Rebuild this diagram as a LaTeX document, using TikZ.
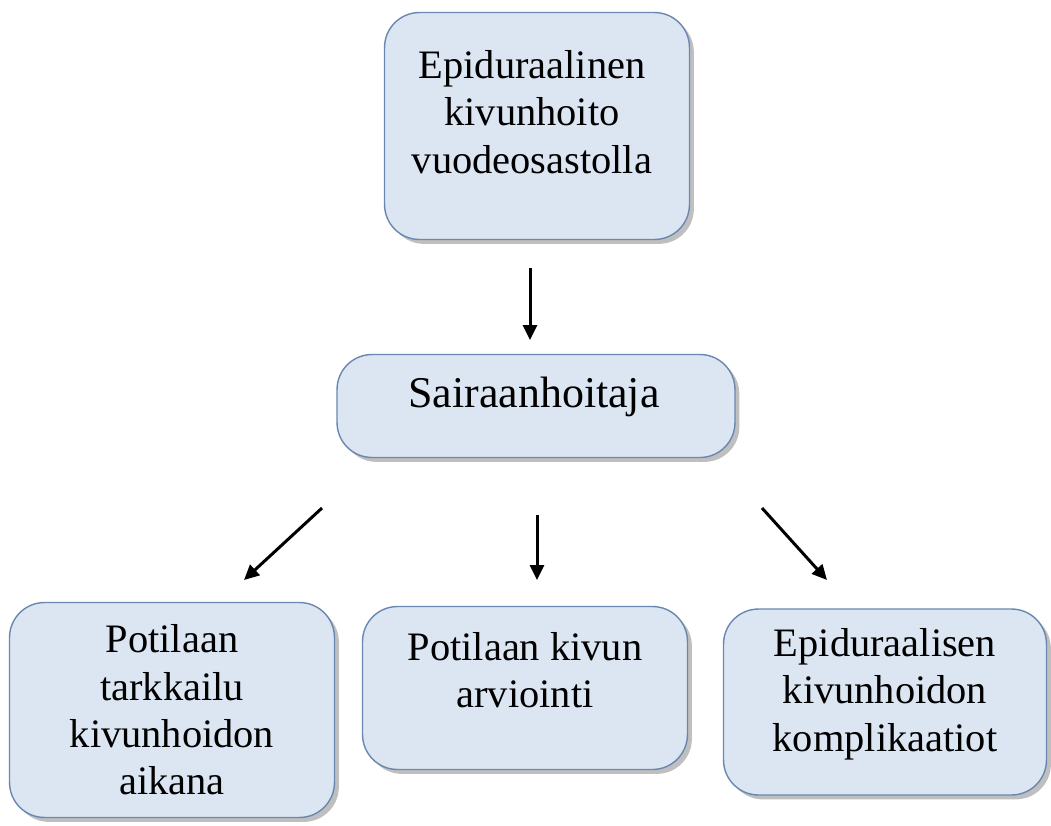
\documentclass[tikz,border=0pt]{standalone}
\usepackage{fontspec}
\setmainfont{Liberation Serif}
\usetikzlibrary{arrows.meta,shadows}
\definecolor{boxfill}{RGB}{220,230,242}
\definecolor{boxline}{RGB}{105,135,175}
\begin{document}
\begin{tikzpicture}[x=0.02cm,y=-0.02cm,
  box/.style={draw=boxline,line width=0.8pt,fill=boxfill,rounded corners=0.7cm,
    drop shadow={shadow xshift=2.5pt,shadow yshift=-2.5pt,fill=black!50}},
  txt/.style={align=center,font=\fontsize{23}{27}\selectfont},
  arr/.style={line width=1.7pt,-{Triangle[length=0.3cm,width=0.28cm]}}]
\useasboundingbox (0,0) rectangle (1051,825);
\node[box,minimum width=6.1cm,minimum height=4.54cm] (top) at (537,126) {};
\node[box,minimum width=7.96cm,minimum height=2.06cm] (mid) at (536,406) {};
\node[box,minimum width=6.5cm,minimum height=4.3cm] (left) at (172,710) {};
\node[box,minimum width=6.5cm,minimum height=3.26cm] (centre) at (525,688) {};
\node[box,minimum width=6.46cm,minimum height=3.72cm] (right) at (885,702) {};
\node[txt] (toptext) at (532,112) {Epiduraalinen\\kivunhoito\\vuodeosastolla};
\node[txt,font=\fontsize{25}{29}\selectfont] (midtext) at (534,397) {Sairaanhoitaja};
\node[txt] (lefttext) at (172,710) {Potilaan\\tarkkailu\\kivunhoidon\\aikana};
\node[txt] (centretext) at (525,670) {Potilaan kivun\\arviointi};
\node[txt] (righttext) at (885,694) {Epiduraalisen\\kivunhoidon\\komplikaatiot};
\coordinate (t1) at (530,268);
\coordinate (t2) at (530,340);
\coordinate (l1) at (322,508);
\coordinate (l2) at (244,580);
\coordinate (c1) at (537,515);
\coordinate (c2) at (537,580);
\coordinate (r1) at (762,508);
\coordinate (r2) at (827,580);
\draw[arr] (t1) -- (t2);
\draw[arr] (l1) -- (l2);
\draw[arr] (c1) -- (c2);
\draw[arr] (r1) -- (r2);
\end{tikzpicture}
\end{document}
